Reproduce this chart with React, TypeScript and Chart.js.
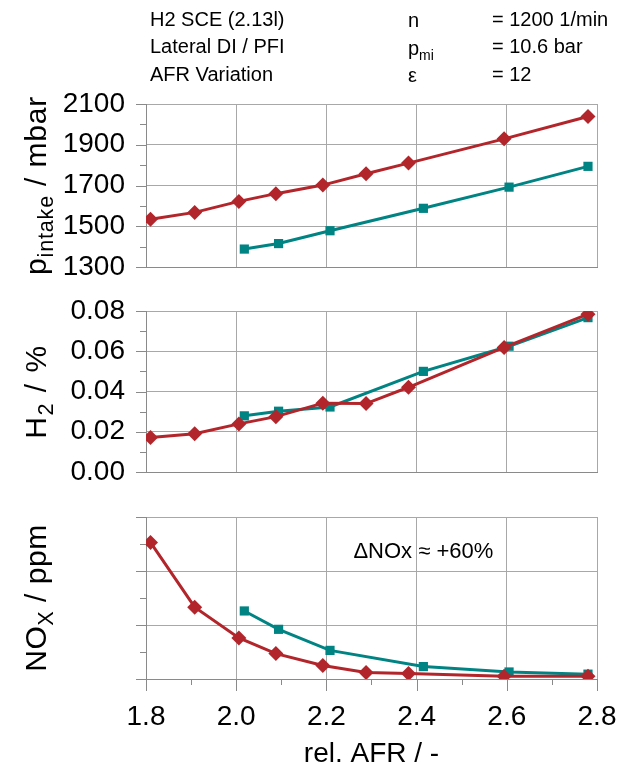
import React, { useEffect, useRef } from 'react';
import { Chart, registerables } from 'chart.js';

Chart.register(...registerables);

const FONT = '"Liberation Sans", Arial, Helvetica, sans-serif';
const RED = '#b2262b';
const TEAL = '#008483';
const GRID = '#a8a8a8';
const AXIS = '#8a8a8a';

// ---- data ----
const afrRed = [1.81, 1.908, 2.006, 2.088, 2.192, 2.288, 2.382, 2.594, 2.78];
const afrTeal = [2.018, 2.094, 2.208, 2.415, 2.605, 2.78];
const pIntakeRed = [1534, 1568, 1622, 1660, 1702, 1758, 1810, 1929, 2039];
const pIntakeTeal = [1388, 1415, 1478, 1588, 1692, 1794];
const h2Red = [0.0171, 0.019, 0.0239, 0.0275, 0.0342, 0.034, 0.0421, 0.0619, 0.0784];
const h2Teal = [0.0279, 0.0302, 0.0323, 0.05, 0.0625, 0.0767];
const noxRed = [2.53, 1.33, 0.76, 0.47, 0.25, 0.12, 0.1, 0.05, 0.05];
const noxTeal = [1.26, 0.92, 0.53, 0.23, 0.13, 0.09];

const xMin = 1.8;
const xMax = 2.8;
const xStep = 0.2;
const xMinorStep = 0.1;

const headerCol1 = ['H2 SCE (2.13l)', 'Lateral DI / PFI', 'AFR Variation'];
const headerCol2 = [[{ t: 'n' }], [{ t: 'p' }, { t: 'mi', sub: true }], [{ t: 'ε' }]];
const headerCol3 = ['= 1200 1/min', '= 10.6 bar', '= 12'];
const annotation = 'ΔNOx ≈ +60%';

type Part = { t: string; sub?: boolean };

const LEFT = 146;
const RIGHT = 597;
const W = 621;

function drawRich(ctx: CanvasRenderingContext2D, parts: Part[], x: number, y: number, size: number, opts: { rotate?: boolean; align?: 'left' | 'center'; subRatio?: number; spacing?: number }) {
  ctx.save();
  ctx.translate(x, y);
  if (opts.rotate) ctx.rotate(-Math.PI / 2);
  const sub = size * (opts.subRatio ?? 0.7);
  const sp = opts.spacing ?? 0;
  const widths = parts.map((p) => {
    ctx.font = `${p.sub ? sub : size}px ${FONT}`;
    return ctx.measureText(p.t).width + sp * p.t.length;
  });
  const total = widths.reduce((a, b) => a + b, 0);
  let cx = opts.align === 'left' ? 0 : -total / 2;
  ctx.textAlign = 'left';
  ctx.textBaseline = 'alphabetic';
  ctx.fillStyle = '#000';
  parts.forEach((p, i) => {
    ctx.font = `${p.sub ? sub : size}px ${FONT}`;
    const yy = size * 0.36 + (p.sub ? size * 0.25 : 0);
    if (sp === 0) {
      ctx.fillText(p.t, cx, yy);
    } else {
      let lx = cx;
      for (const ch of p.t) {
        ctx.fillText(ch, lx, yy);
        lx += ctx.measureText(ch).width + sp;
      }
    }
    cx += widths[i];
  });
  ctx.restore();
}

type PanelDef = {
  canvasTop: number;
  canvasHeight: number;
  areaTop: number;
  areaBottom: number;
  yMin: number;
  yMax: number;
  yStep: number;
  yMinor: number;
  yDecimals: number;
  yLabels: boolean;
  red: number[];
  teal: number[];
  title: Part[];
  titleSpacing: number;
  bottom: boolean;
  header?: boolean;
  note?: boolean;
};

const panels: PanelDef[] = [
  {
    canvasTop: 0, canvasHeight: 290, areaTop: 104, areaBottom: 267,
    yMin: 1300, yMax: 2100, yStep: 200, yMinor: 100, yDecimals: 0, yLabels: true,
    red: pIntakeRed, teal: pIntakeTeal,
    title: [{ t: 'p' }, { t: 'intake', sub: true }, { t: ' / mbar' }],
    titleSpacing: 0.8,
    bottom: false, header: true,
  },
  {
    canvasTop: 290, canvasHeight: 205, areaTop: 311, areaBottom: 472,
    yMin: 0, yMax: 0.08, yStep: 0.02, yMinor: 0.01, yDecimals: 2, yLabels: true,
    red: h2Red, teal: h2Teal,
    title: [{ t: 'H' }, { t: '2', sub: true }, { t: ' / %' }],
    titleSpacing: 1.5,
    bottom: false,
  },
  {
    canvasTop: 495, canvasHeight: 274, areaTop: 517, areaBottom: 679,
    yMin: 0, yMax: 3, yStep: 1, yMinor: 0.5, yDecimals: 0, yLabels: false,
    red: noxRed, teal: noxTeal,
    title: [{ t: 'NO' }, { t: 'X', sub: true }, { t: ' / ppm' }],
    titleSpacing: 0.5,
    bottom: true, note: true,
  },
];

function Panel({ def }: { def: PanelDef }) {
  const ref = useRef<HTMLCanvasElement>(null);
  useEffect(() => {
    const canvas = ref.current!;
    const deco = {
      id: 'deco',
      afterDraw(chart: any) {
        const ctx: CanvasRenderingContext2D = chart.ctx;
        const ys = chart.scales.y;
        const xs = chart.scales.x;
        const area = chart.chartArea;
        ctx.save();
        ctx.strokeStyle = AXIS;
        ctx.lineWidth = 1;
        // y tick marks
        const nY = Math.round((def.yMax - def.yMin) / def.yMinor);
        for (let i = 0; i <= nY; i++) {
          const v = def.yMin + i * def.yMinor;
          const py = Math.round(ys.getPixelForValue(v)) + 0.5;
          const major = i % Math.round(def.yStep / def.yMinor) === 0;
          ctx.beginPath();
          ctx.moveTo(area.left - (major ? 10 : 6), py);
          ctx.lineTo(area.left, py);
          ctx.stroke();
        }
        if (def.bottom) {
          const nX = Math.round((xMax - xMin) / xMinorStep);
          for (let i = 0; i <= nX; i++) {
            const v = xMin + i * xMinorStep;
            const px = Math.round(xs.getPixelForValue(v)) + 0.5;
            const major = i % 2 === 0;
            ctx.beginPath();
            ctx.moveTo(px, area.bottom);
            ctx.lineTo(px, area.bottom + (major ? 12 : 6));
            ctx.stroke();
          }
          ctx.fillStyle = '#000';
          ctx.font = `28px ${FONT}`;
          ctx.textAlign = 'center';
          ctx.textBaseline = 'middle';
          ctx.fillText('rel. AFR / -', (area.left + area.right) / 2, 259);
        }
        ctx.restore();
        // y title
        drawRich(ctx, def.title, 35, (area.top + area.bottom) / 2, 30, { rotate: true, subRatio: 0.72, spacing: def.titleSpacing });
        if (def.header) {
          const lineY = [20, 47.5, 75];
          ctx.save();
          ctx.fillStyle = '#000';
          ctx.font = `20px ${FONT}`;
          ctx.textAlign = 'left';
          ctx.textBaseline = 'middle';
          headerCol1.forEach((t, i) => ctx.fillText(t, 150, lineY[i]));
          headerCol3.forEach((t, i) => ctx.fillText(t, 492, lineY[i]));
          ctx.restore();
          headerCol2.forEach((p, i) => drawRich(ctx, p as Part[], 408, lineY[i], 20, { align: 'left' }));
        }
        if (def.note) {
          ctx.save();
          ctx.fillStyle = '#000';
          ctx.font = `22px ${FONT}`;
          ctx.textAlign = 'center';
          ctx.textBaseline = 'middle';
          ctx.fillText(annotation, xs.getPixelForValue(2.415), ys.getPixelForValue(2.36));
          ctx.restore();
        }
      },
    };
    const chart = new Chart(canvas, {
      type: 'line',
      data: {
        datasets: [
          {
            data: afrRed.map((x, i) => ({ x, y: def.red[i] })),
            borderColor: RED, backgroundColor: RED, borderWidth: 3,
            pointStyle: 'rectRot', pointRadius: 7.5, pointBorderWidth: 0,
          },
          {
            data: afrTeal.map((x, i) => ({ x, y: def.teal[i] })),
            borderColor: TEAL, backgroundColor: TEAL, borderWidth: 3,
            pointStyle: 'rect', pointRadius: 6.5, pointBorderWidth: 0,
          },
        ],
      },
      options: {
        animation: false,
        responsive: false,
        maintainAspectRatio: false,
        layout: { padding: { top: def.areaTop - def.canvasTop, left: 0, right: W - RIGHT, bottom: 0 } },
        plugins: { legend: { display: false }, tooltip: { enabled: false } },
        scales: {
          x: {
            type: 'linear', min: xMin, max: xMax,
            afterFit: (s: any) => {
              s.height = def.canvasTop + def.canvasHeight - def.areaBottom;
              s.paddingLeft = 0; s.paddingRight = 0; s.paddingTop = 0; s.paddingBottom = 0;
            },
            ticks: {
              display: def.bottom, stepSize: xStep, padding: 21,
              font: { family: FONT, size: 28 }, color: '#000',
              callback: (v: any) => Number(v).toFixed(1),
            },
            grid: { color: GRID, lineWidth: 1, drawTicks: false },
            border: { color: AXIS, width: 1 },
          },
          y: {
            type: 'linear', min: def.yMin, max: def.yMax,
            afterFit: (s: any) => {
              s.width = LEFT;
              s.paddingLeft = 0; s.paddingRight = 0; s.paddingTop = 0; s.paddingBottom = 0;
            },
            ticks: {
              display: def.yLabels, stepSize: def.yStep, padding: 21,
              font: { family: FONT, size: 28 }, color: '#000',
              callback: (v: any) => Number(v).toFixed(def.yDecimals),
            },
            grid: { color: GRID, lineWidth: 1, drawTicks: false },
            border: { color: AXIS, width: 1 },
          },
        },
      },
      plugins: [deco],
    } as any);
    return () => chart.destroy();
  }, [def]);
  return (
    <canvas
      ref={ref}
      width={W}
      height={def.canvasHeight}
      style={{ position: 'absolute', left: 0, top: def.canvasTop, width: W, height: def.canvasHeight }}
    />
  );
}

export default function App() {
  return (
    <div style={{ position: 'absolute', left: 0, top: 0, width: W, height: 769, background: '#fff' }}>
      {panels.map((p, i) => (
        <Panel key={i} def={p} />
      ))}
    </div>
  );
}
